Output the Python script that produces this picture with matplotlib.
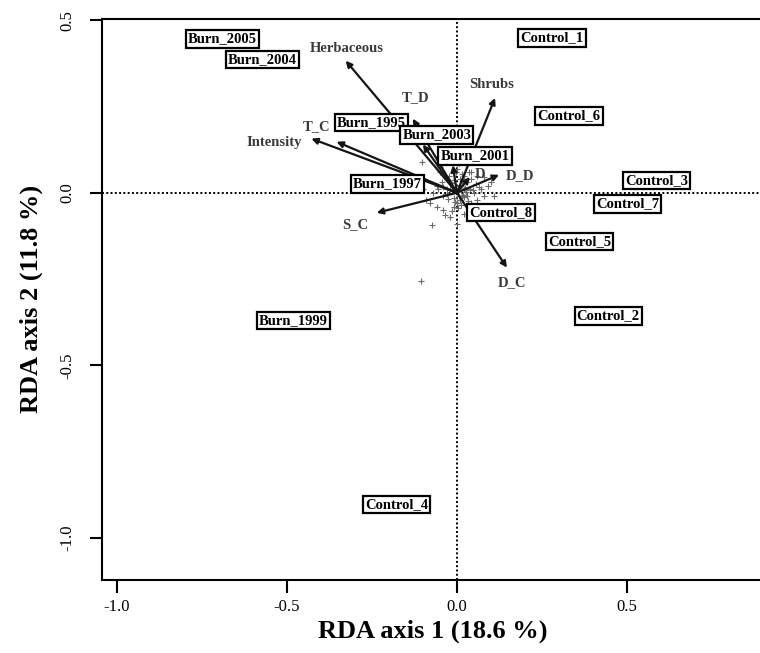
import matplotlib
matplotlib.use("Agg")
import matplotlib.pyplot as plt

# Site scores (RDA axis 1, axis 2)
sites = ["Burn_2005", "Burn_2004", "Control_1", "Control_6", "Burn_1995",
         "Burn_2003", "Burn_2001", "Burn_1997", "Control_3", "Control_7",
         "Control_8", "Control_5", "Control_2", "Burn_1999", "Control_4"]
site_x = [-0.69, -0.572, 0.28, 0.33, -0.251, -0.059, 0.053, -0.204,
          0.587, 0.501, 0.13, 0.36, 0.445, -0.481, -0.177]
site_y = [0.446, 0.386, 0.449, 0.223, 0.203, 0.168, 0.107, 0.026,
          0.035, -0.032, -0.058, -0.142, -0.357, -0.371, -0.904]

# Environmental vectors (arrow tips) and where their names sit
env = ["Herbaceous", "T_D", "Shrubs", "T_C", "Intensity", "S_C", "D_C",
       "D_D", "D", "", ""]
env_x = [-0.327, -0.13, 0.112, -0.354, -0.428, -0.236, 0.147, 0.124,
         0.038, -0.10, -0.012]
env_y = [0.383, 0.215, 0.275, 0.148, 0.157, -0.058, -0.217, 0.052,
         0.046, 0.14, 0.08]
label_x = [-0.325, -0.121, 0.103, -0.413, -0.537, -0.298, 0.162, 0.186,
           0.068, 0, 0]
label_y = [0.417, 0.275, 0.313, 0.191, 0.145, -0.093, -0.261, 0.049,
           0.052, 0, 0]

# Species scores
sp_x = [-0.02, 0.01, 0.03, -0.04, 0.05, 0.02, -0.01, 0.04, -0.06, 0.07,
        0.00, -0.03, 0.06, 0.08, -0.08, 0.02, -0.05, 0.03, 0.01, -0.02,
        0.09, -0.07, 0.04, 0.00, -0.01, 0.05, -0.09, 0.11, 0.02, -0.04,
        0.06, 0.01, -0.03, 0.03, -0.06, 0.00, 0.07, -0.02, 0.04, -0.10,
        -0.074, -0.106, -0.103, -0.125, 0.10, -0.05, 0.015, 0.025, -0.015,
        0.035, 0.012, -0.008, 0.055, -0.035, 0.045, 0.08, -0.045, 0.005,
        0.002, -0.012, 0.018, -0.025, 0.028, 0.008, -0.005, 0.014, -0.018,
        0.022, -0.03, 0.038, 0.003, -0.022, 0.01, -0.008, 0.032, -0.04,
        0.048, 0.016, -0.014, 0.006, 0.026, -0.055, 0.065, -0.002]
sp_y = [0.01, -0.02, 0.03, -0.01, 0.00, 0.05, -0.04, -0.03, 0.02, 0.01,
        0.07, 0.04, -0.02, -0.01, -0.03, -0.06, 0.06, 0.08, 0.02, -0.07,
        0.02, 0.00, 0.04, -0.03, 0.09, -0.05, -0.02, -0.01, 0.01, -0.05,
        0.05, 0.04, 0.01, -0.01, -0.04, -0.09, -0.04, 0.03, 0.06, 0.01,
        -0.093, -0.255, 0.09, 0.02, 0.03, 0.075, -0.01, 0.015, 0.005,
        0.06, -0.035, -0.015, 0.025, -0.065, -0.06, 0.045, 0.03, 0.085,
        0.005, 0.012, -0.006, -0.018, 0.008, 0.022, -0.028, 0.035, 0.028,
        -0.012, -0.004, 0.012, -0.045, 0.048, -0.022, 0.038, -0.025, 0.018,
        0.008, 0.055, -0.052, -0.01, 0.002, 0.012, 0.018, 0.06]

plt.rcParams["font.family"] = ["Liberation Serif", "DejaVu Serif"]

fig = plt.figure(figsize=(7.6, 6.53), dpi=100)
ax = fig.add_axes([0.134, 0.112, 0.87, 0.859])

ax.set_xlim(-1.044, 0.90)
ax.set_ylim(-1.122, 0.504)

ax.axhline(0, color="black", lw=1.4, ls=(0, (1, 1.2)), zorder=1)
ax.axvline(0, color="black", lw=1.4, ls=(0, (1, 1.2)), zorder=1)

ax.plot(sp_x, sp_y, ls="none", marker="+", ms=4, mew=0.8, color="#6a6a6a", zorder=2)

for name, x, y, lx, ly in zip(env, env_x, env_y, label_x, label_y):
    ax.annotate("", xy=(x, y), xytext=(0, 0),
                arrowprops=dict(arrowstyle="-|>", lw=1.6, color="#151515",
                                mutation_scale=9, shrinkA=0, shrinkB=0),
                zorder=3)
    if name:
        ax.text(lx, ly, name, ha="center", va="center", fontsize=10.5,
                fontweight="bold", color="#3a3a3a", zorder=3)

for name, x, y in zip(sites, site_x, site_y):
    ax.text(x, y, name, ha="center", va="center", fontsize=10.5,
            fontweight="bold", zorder=4,
            bbox=dict(boxstyle="square,pad=0.15", fc="white", ec="black", lw=1.6))

for side in ("left", "bottom", "top"):
    ax.spines[side].set_linewidth(1.5)
ax.spines["right"].set_visible(False)

ax.set_xticks([-1.0, -0.5, 0.0, 0.5])
ax.set_yticks([-1.0, -0.5, 0.0, 0.5])
ax.set_xticklabels(["-1.0", "-0.5", "0.0", "0.5"])
ax.set_yticklabels(["-1.0", "-0.5", "0.0", "0.5"])
ax.tick_params(direction="out", length=9, width=1.5, labelsize=12)
ax.tick_params(axis="x", pad=5)
ax.tick_params(axis="y", pad=10, labelrotation=90)
for lab in ax.get_yticklabels():
    lab.set_va("center")

ax.set_xlabel("RDA axis 1 (18.6 %)", fontsize=19, fontweight="bold", labelpad=3)
ax.set_ylabel("RDA axis 2 (11.8 %)", fontsize=19, fontweight="bold", labelpad=12)

fig.savefig("out.png", dpi=100)
